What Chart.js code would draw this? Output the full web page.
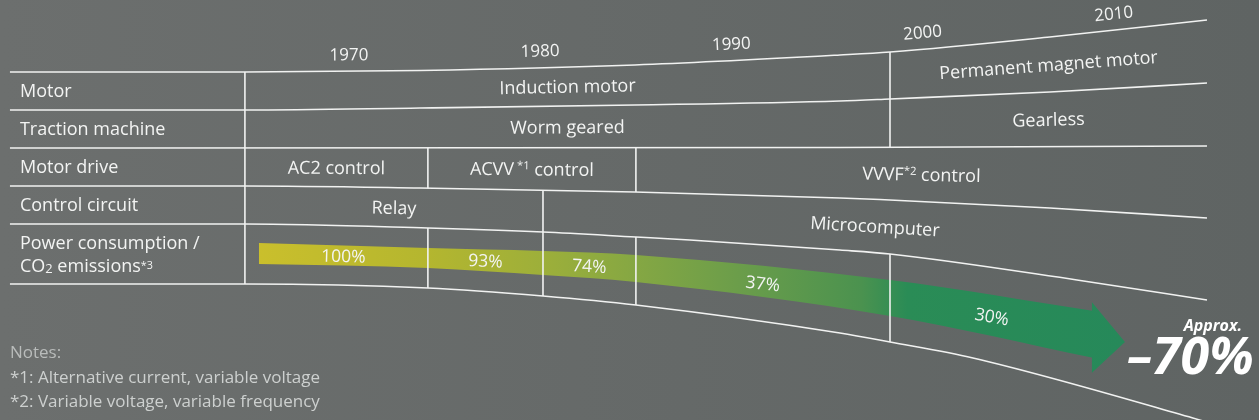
<!DOCTYPE html>
<html>
<head>
<meta charset="utf-8">
<script src="https://cdn.jsdelivr.net/npm/chart.js"></script>
<style>
  html, body { margin: 0; padding: 0; background: #666a69; }
  #wrap { width: 1259px; height: 420px; }
</style>
</head>
<body>
<div id="wrap"><canvas id="chart" width="1259" height="420"></canvas></div>
<script>
// Eixos: x em anos, y em "linhas" do desenho (0 = topo)
const xRange = [1951.75, 2017.6];
const yRange = [0, 420];
const yearTicks = [1970, 1980, 1990, 2000, 2010];

// Linhas horizontais da tabela [ano, nível]
const rule0 = [[1952.27, 72], [1964.56, 72], [1973.71, 70.5], [1984.96, 65], [1995.68, 55], [1998.30, 52], [2006.66, 37], [2014.88, 20]];
const rule1 = [[1952.27, 110], [1964.56, 110], [1973.71, 108], [1984.96, 105], [1995.68, 101], [1998.30, 99], [2006.66, 92], [2014.88, 83]];
const rule2 = [[1952.27, 148], [1995.68, 147.5], [2014.88, 146]];
const rule3 = [[1952.27, 186], [1964.56, 186], [1973.71, 188], [1984.96, 192], [1995.68, 198], [1997.77, 199.5], [2006.66, 208], [2014.88, 218]];
const rule4 = [[1952.27, 224], [1964.56, 224], [1974.13, 228], [1980.15, 232], [1985.01, 237], [1987.83, 240], [1995.68, 250], [1998.30, 254], [2008.08, 280], [2014.88, 300]];
const rule5 = [[1952.27, 284], [1964.56, 284], [1974.13, 288], [1980.15, 296], [1985.01, 305], [1995.68, 333], [1998.30, 342], [2002.64, 358], [2014.14, 418], [2015.2, 424]];
const rules = [rule0, rule1, rule2, rule3, rule4, rule5];

// Divisórias verticais [ano, linha de cima, linha de baixo]
const dividers = [[1964.56, 0, 5], [1974.13, 2, 3], [1974.13, 4, 5], [1980.15, 3, 5], [1985.01, 2, 3], [1985.01, 4, 5], [1998.30, 0, 2], [1998.30, 4, 5]];

// Rótulos das linhas e células [texto, de, até]
const rowLabels = [['Motor'], ['Traction machine'], ['Motor drive'], ['Control circuit'], ['Power consumption /', ['CO', ['2', 'sub'], ' emissions', ['*3', 'note']]]];
const motorCells = [['Induction motor', 1964.56, 1998.30], ['Permanent magnet motor', 1998.30, 2014.88]];
const machineCells = [['Worm geared', 1964.56, 1998.30], ['Gearless', 1998.30, 2014.88]];
const driveCells = [['AC2 control', 1964.56, 1974.13], [['ACVV', [' *1', 'sup'], ' control'], 1974.13, 1985.01], [['VVVF', ['*2', 'sup'], ' control'], 1985.01, 2014.88]];
const circuitCells = [['Relay', 1964.56, 1980.15], ['Microcomputer', 1980.15, 2014.88]];
const rowCells = [motorCells, machineCells, driveCells, circuitCells];

// Consumo de energia (%)
const powerBounds = [1965.29, 1974.13, 1980.15, 1985.01, 1998.30, 2008.97];
const powerShare = [100, 93, 74, 37, 30];
const bandTop = [243, 248, 251, 255, 280, 311];
const bandBottom = [264, 268, 275, 282, 316, 358];
const headYears = [2008.85, 2010.59];
const headTop = [302, 342];
const headBottom = [373, 342];

const notes = ['Notes:', '*1: Alternative current, variable voltage', '*2: Variable voltage, variable frequency', '*3: CO2 emissions are calculated based on power consumption'];

// Estilos
const FONT = '"Open Sans", "Noto Sans", sans-serif';
const LINE = '#f1f2f1';
const TEXT = '#f3f4f3';
const arrowShades = [[1965.29, '#cabf2c'], [1974.13, '#b4b62f'], [1980.15, '#9daf3a'], [1985.01, '#85a743'], [1991, '#689c4b'], [1996.8, '#4b924f'], [1999.2, '#2a8c56'], [2010.59, '#26895a']];

const pts = (xs, ys) => xs.map((v, i) => ({x: v, y: ys[i]}));
const rulePts = r => r.map(([x, y]) => ({x, y}));

function ruleAt(r, yr) {
    for (let i = 1; i < r.length; i++) {
        if (yr <= r[i][0] || i === r.length - 1) {
            const [x0, y0] = r[i - 1], [x1, y1] = r[i];
            return y0 + (y1 - y0) * (yr - x0) / (x1 - x0);
        }
    }
}

function arrowGradient(chart) {
    const {ctx, chartArea, scales} = chart;
    if (!chartArea || !scales.x) return arrowShades[0][1];
    const x0 = scales.x.getPixelForValue(powerBounds[0]);
    const x1 = scales.x.getPixelForValue(headYears[1]);
    const g = ctx.createLinearGradient(x0, 0, x1, 0);
    arrowShades.forEach(([yr, col]) => {
        const t = (scales.x.getPixelForValue(yr) - x0) / (x1 - x0);
        g.addColorStop(Math.min(1, Math.max(0, t)), col);
    });
    return g;
}

const datasets = [];
rules.forEach(r => datasets.push({
    data: rulePts(r), borderColor: LINE, borderWidth: 1.6,
    cubicInterpolationMode: 'monotone', pointRadius: 0, fill: false, order: 0
}));
dividers.forEach(([yr, a, b]) => datasets.push({
    data: [{x: yr, y: ruleAt(rules[a], yr)}, {x: yr, y: ruleAt(rules[b], yr)}],
    borderColor: LINE, borderWidth: 1.6, tension: 0, pointRadius: 0, fill: false, order: 0
}));
// Seta de consumo: faixa + ponta
datasets.push({data: pts(powerBounds, bandTop), borderWidth: 0, borderColor: 'rgba(0,0,0,0)',
    backgroundColor: c => arrowGradient(c.chart), fill: '+1', cubicInterpolationMode: 'monotone', pointRadius: 0, order: 5});
datasets.push({data: pts(powerBounds, bandBottom), borderWidth: 0, borderColor: 'rgba(0,0,0,0)',
    fill: false, cubicInterpolationMode: 'monotone', pointRadius: 0, order: 5});
datasets.push({data: pts(headYears, headTop), borderWidth: 0, borderColor: 'rgba(0,0,0,0)',
    backgroundColor: c => arrowGradient(c.chart), fill: '+1', tension: 0, pointRadius: 0, order: 5});
datasets.push({data: pts(headYears, headBottom), borderWidth: 0, borderColor: 'rgba(0,0,0,0)',
    fill: false, tension: 0, pointRadius: 0, order: 5});

// Texto com sobrescrito / subscrito
const KINDS = {
    '': {s: 1, dy: 0},
    sup: {s: 0.62, dy: -0.33},
    sub: {s: 0.72, dy: 0.06},
    note: {s: 0.6, dy: -0.14}
};

function drawRich(ctx, label, x, y, size, opts) {
    const {align = 'center', angle = 0, color = TEXT, weight = '400', style = 'normal'} = opts || {};
    const pieces = (Array.isArray(label) ? label : [label]).map(p => typeof p === 'string' ? [p, ''] : p);
    const runs = pieces.map(([t, k]) => {
        const sz = size * KINDS[k].s;
        ctx.font = `${style} ${weight} ${sz}px ${FONT}`;
        return {t, sz, dy: size * KINDS[k].dy, w: ctx.measureText(t).width};
    });
    const total = runs.reduce((s, r) => s + r.w, 0);
    ctx.save();
    ctx.translate(x, y);
    ctx.rotate(angle);
    ctx.fillStyle = color;
    ctx.textBaseline = 'alphabetic';
    ctx.textAlign = 'left';
    let cx = align === 'center' ? -total / 2 : align === 'right' ? -total : 0;
    const base = size * 0.36;
    runs.forEach(r => {
        ctx.font = `${style} ${weight} ${r.sz}px ${FONT}`;
        ctx.fillText(r.t, cx, base + r.dy);
        cx += r.w;
    });
    ctx.restore();
}

const backdrop = {
    id: 'backdrop',
    beforeDraw(chart) {
        const {ctx, width, height} = chart;
        const g = ctx.createLinearGradient(0, 0, width, 0);
        g.addColorStop(0, '#6c6f6e');
        g.addColorStop(1, '#5f6463');
        ctx.save();
        ctx.fillStyle = g;
        ctx.fillRect(0, 0, width, height);
        ctx.restore();
    }
};

const diagramText = {
    id: 'diagramText',
    afterDatasetsDraw(chart) {
        const {ctx, scales: {x, y}} = chart;
        const px = v => x.getPixelForValue(v);
        const py = v => y.getPixelForValue(v);
        const angleOf = (fn, yr) => Math.atan2(py(fn(yr + 0.5)) - py(fn(yr - 0.5)), px(yr + 0.5) - px(yr - 0.5));
        const size = 18;

        // Anos
        yearTicks.forEach(yr => {
            const fn = v => ruleAt(rule0, v);
            drawRich(ctx, String(yr), px(yr), py(fn(yr)) - 17, 17, {angle: angleOf(fn, yr)});
        });

        // Rótulos das linhas
        rowLabels.forEach((lab, i) => {
            const left = px(rules[i][0][0]) + 10;
            const mid = (py(rules[i][0][1]) + py(rules[i + 1][0][1])) / 2;
            if (lab.length === 1) {
                drawRich(ctx, lab[0], left, mid, size, {align: 'left'});
            } else {
                drawRich(ctx, lab[0], left, mid - 11.5, size, {align: 'left'});
                drawRich(ctx, lab[1], left, mid + 11.5, size, {align: 'left'});
            }
        });

        // Células
        rowCells.forEach((cells, i) => {
            const fn = v => (ruleAt(rules[i], v) + ruleAt(rules[i + 1], v)) / 2;
            cells.forEach(([lab, a, b]) => {
                const c = (a + b) / 2;
                drawRich(ctx, lab, px(c), py(fn(c)), size, {angle: angleOf(fn, c)});
            });
        });

        // Percentagens na seta
        const bandMid = v => {
            const t = powerBounds.map((b, k) => [b, (bandTop[k] + bandBottom[k]) / 2]);
            return ruleAt(t, v);
        };
        powerShare.forEach((v, i) => {
            const c = (powerBounds[i] + powerBounds[i + 1]) / 2;
            drawRich(ctx, v + '%', px(c), py(bandMid(c)), 17.5, {angle: angleOf(bandMid, c)});
        });

        // Redução total
        const tx = px(headYears[1]), ty = py(headTop[1]);
        drawRich(ctx, 'Approx.', tx + 117, ty - 17, 16, {align: 'right', weight: '700', style: 'italic', color: '#ffffff'});
        drawRich(ctx, '\u2013' + (powerShare[0] - powerShare[powerShare.length - 1]) + '%', tx + 2, ty + 13, 52,
            {align: 'left', weight: '700', style: 'italic', color: '#ffffff'});

        // Notas
        const nx = px(rule5[0][0]);
        const ny = py(rule5[0][1]) + 68;
        notes.forEach((n, i) => {
            drawRich(ctx, n, nx, ny + i * 24.5, 17, {align: 'left', color: i === 0 ? '#b9bcbb' : '#cdd0cf'});
        });
    }
};

new Chart(document.getElementById('chart'), {
    type: 'line',
    data: {datasets},
    options: {
        responsive: false,
        devicePixelRatio: 1,
        animation: false,
        events: [],
        layout: {padding: 0},
        scales: {
            x: {type: 'linear', min: xRange[0], max: xRange[1], display: false},
            y: {type: 'linear', min: yRange[0], max: yRange[1], reverse: true, display: false}
        },
        plugins: {legend: {display: false}, tooltip: {enabled: false}}
    },
    plugins: [backdrop, diagramText]
});
</script>
</body>
</html>
